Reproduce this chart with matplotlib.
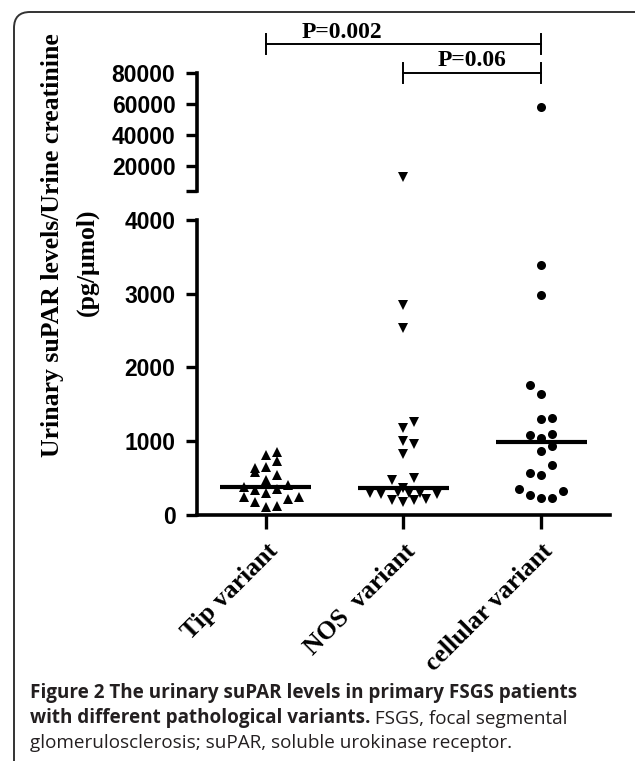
import numpy as np
import matplotlib
matplotlib.use("Agg")
import matplotlib.pyplot as plt
from matplotlib.patches import FancyBboxPatch

categories = ["Tip variant", "NOS  variant", "cellular variant"]

# values (pg/umol); offsets are the horizontal spread, in columns
tipValues = [812, 843, 732, 638, 584, 642, 463, 530, 373, 396, 329, 342, 293, 239, 172, 105, 118, 208, 239]
tipOffsets = [0, 1, 1, -1, -1, 0, 0, 1, -2, 2, -1, 1, 0, -2, -1, 0, 1, 2, 3]

nosValues = [13000, 2848, 2534, 1179, 1259, 1000, 956, 821, 463, 494, 360,
             298, 275, 306, 298, 298, 285, 195, 164, 195, 208]
nosOffsets = [0, 0, 0, 0, 1, 0, 1, 0, -1, 1, 0, -3, -2, -0.5, 0.5, 1.5, 3, -1, 0, 1, 2]

cellValues = [58000, 3393, 2977, 1761, 1635, 1291, 1313, 1077, 1044, 1098, 933, 856,
              674, 566, 540, 351, 271, 231, 231, 315]
cellOffsets = [0, 0, 0, -1, 0, 0, 1, -1, 0, 1, 1, 0, 1, -1, 0, -2, -1, 0, 1, 2]

lowerTicks = [0, 1000, 2000, 3000, 4000]
upperTicks = [4000, 20000, 40000, 60000, 80000]
upperTickLabels = ["", "20000", "40000", "60000", "80000"]
breakValue = 4000

comparisons = [(0, 2, "P=0.002"), (1, 2, "P=0.06")]

groups = [
    (tipValues, tipOffsets, "^", 7.2),
    (nosValues, nosOffsets, "v", 7.2),
    (cellValues, cellOffsets, "o", 6.5),
]

serif = "Liberation Serif"
sans = "Liberation Sans"
columnWidth = 0.08

fig = plt.figure(figsize=(6.35, 7.61), dpi=100)

frame = FancyBboxPatch((0.14, -1.0), 7.0, 8.49, boxstyle="round,pad=0,rounding_size=0.16",
                       transform=fig.dpi_scale_trans, facecolor="none", edgecolor="#333333", linewidth=1.4)
fig.patches.append(frame)

axLow = fig.add_axes([0.3102, 0.3239, 0.6504, 0.3870])
axHigh = fig.add_axes([0.3102, 0.7490, 0.6504, 0.1551])

for ax, keep in ((axLow, lambda v: v <= breakValue), (axHigh, lambda v: v > breakValue)):
    for pos, (values, offsets, marker, size) in enumerate(groups):
        vals = np.array(values, dtype=float)
        xs = pos + np.array(offsets) * columnWidth
        mask = keep(vals)
        ax.plot(xs[mask], vals[mask], linestyle="none", marker=marker, markersize=size,
                color="black", markeredgewidth=0)
        median = np.median(vals)
        if keep(median):
            ax.hlines(median, pos - 0.33, pos + 0.33, color="black", linewidth=3)
    ax.set_xlim(-0.5, 2.5)
    ax.spines["top"].set_visible(False)
    ax.spines["right"].set_visible(False)
    ax.spines["left"].set_linewidth(2.6)
    ax.spines["bottom"].set_linewidth(2.6)
    ax.tick_params(axis="y", direction="out", length=8, width=2.4, pad=7.5)

axLow.set_ylim(0, 4000)
axLow.set_yticks(lowerTicks)
axLow.set_yticklabels([str(t) for t in lowerTicks], fontsize=16.5, fontweight="bold", family=sans)
axLow.set_xticks(range(len(categories)))
axLow.set_xticklabels(categories, rotation=45, ha="right", va="top", rotation_mode="anchor",
                      fontsize=18.5, fontweight="bold", family=serif)
axLow.tick_params(axis="x", direction="out", length=10, width=2.4, pad=8)

axHigh.set_ylim(4000, 80000)
axHigh.set_yticks(upperTicks)
axHigh.set_yticklabels(upperTickLabels, fontsize=16.5, fontweight="bold", family=sans)
axHigh.spines["bottom"].set_visible(False)
axHigh.set_xticks([])

# significance brackets above the upper panel
levels = [98500, 80000]
capHalf = 6500
for (left, right, label), level in zip(comparisons, levels):
    axHigh.plot([left, right], [level, level], color="black", linewidth=1.4, clip_on=False)
    for end in (left, right):
        axHigh.plot([end, end], [level - capHalf, level + capHalf], color="black",
                    linewidth=1.4, clip_on=False)
    textX = 0.55 if label == "P=0.002" else (left + right) / 2
    axHigh.text(textX, level + 1000, label, ha="center", va="bottom", fontsize=17,
                fontweight="bold", family=serif, clip_on=False)

fig.text(0.082, 0.678, "Urinary suPAR levels/Urine creatinine", rotation=90,
         ha="center", va="center", fontsize=18.5, fontweight="bold", family=serif)
fig.text(0.137, 0.655, "(pg/\u03bcmol)", rotation=90,
         ha="center", va="center", fontsize=18.5, fontweight="bold", family=serif)

captionColor = "#231f20"
capFont = "Open Sans"
capSize = 13.6
fig.text(0.047, 0.090, "Figure 2 The urinary suPAR levels in primary FSGS patients",
         fontsize=capSize, fontweight="bold", family=capFont, color=captionColor, va="center")
boldPart = fig.text(0.047, 0.056, "with different pathological variants.",
                    fontsize=capSize, fontweight="bold", family=capFont, color=captionColor, va="center")
fig.add_artist(plt.Annotation(" FSGS, focal segmental", xy=(1, 0), xycoords=boldPart, va="bottom", ha="left",
                              fontsize=capSize, family=capFont, color=captionColor, annotation_clip=False))
fig.text(0.047, 0.023, "glomerulosclerosis; suPAR, soluble urokinase receptor.",
         fontsize=capSize, family=capFont, color=captionColor, va="center")

fig.savefig("out.png", dpi=100)
